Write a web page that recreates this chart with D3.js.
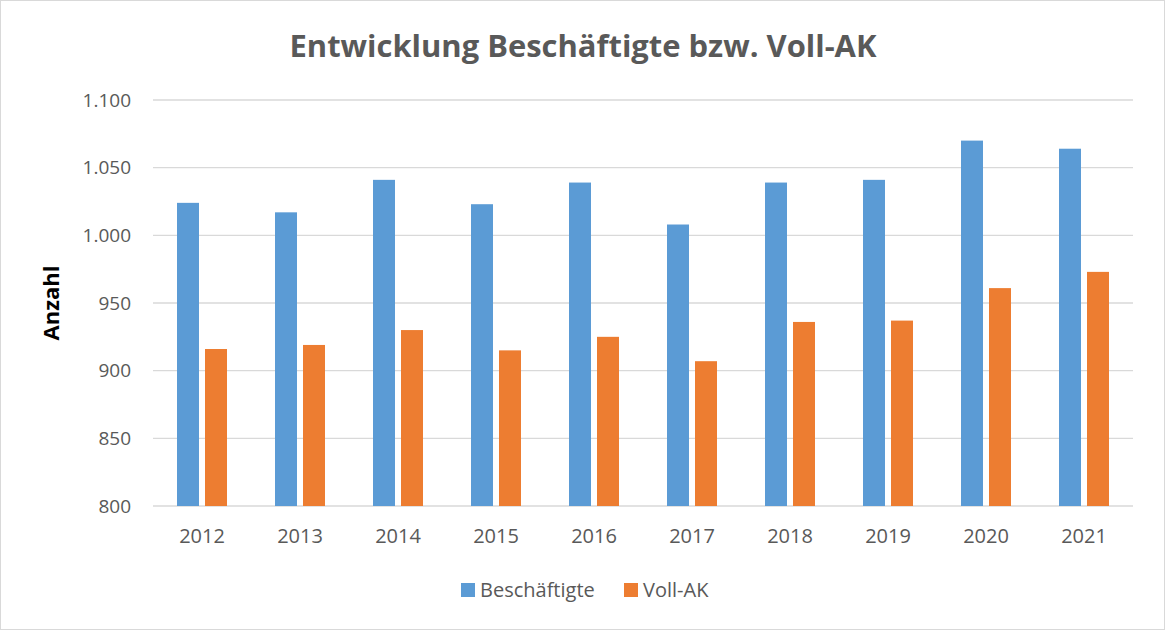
<!DOCTYPE html>
<html>
<head>
<meta charset="utf-8">
<script src="https://cdn.jsdelivr.net/npm/d3@7"></script>
<style>
  body { margin: 0; background: #fff; }
  text { font-family: "Open Sans", "Liberation Sans", sans-serif; }
</style>
</head>
<body>
<div id="chart"></div>
<script>
// data
var years = ["2012","2013","2014","2015","2016","2017","2018","2019","2020","2021"];
var beschaeftigte = [1024, 1017, 1041, 1023, 1039, 1008, 1039, 1041, 1070, 1064];
var vollAK = [916, 919, 930, 915, 925, 907, 936, 937, 961, 973];
var seriesNames = ["Beschäftigte", "Voll-AK"];
var yTicks = [800, 850, 900, 950, 1000, 1050, 1100];

var W = 1165, H = 630;
var margin = {top: 100, right: 32, bottom: 124, left: 153};
var width = W - margin.left - margin.right,
    height = H - margin.top - margin.bottom;
var colors = ["#5B9BD5", "#ED7D31"];

var svg = d3.select("#chart").append("svg")
    .attr("width", W)
    .attr("height", H);

// outer border
svg.append("rect")
  .attr("x", 0.5).attr("y", 0.5)
  .attr("width", W - 1).attr("height", H - 1)
  .attr("fill", "#fff")
  .attr("stroke", "#d9d9d9");

svg.append("text")
  .attr("x", 583).attr("y", 57)
  .attr("text-anchor", "middle")
  .attr("font-size", 30)
  .attr("font-weight", "bold")
  .attr("fill", "#595959")
  .attr("textLength", 587)
  .attr("lengthAdjust", "spacingAndGlyphs")
  .text("Entwicklung Beschäftigte bzw. Voll-AK");

var g = svg.append("g")
  .attr("transform", "translate(" + margin.left + "," + margin.top + ")");

var x = d3.scaleBand().domain(years).range([0, width]);
var y = d3.scaleLinear().domain([800, 1100]).range([height, 0]);

// gridlines
g.append("g")
  .selectAll("line")
  .data(yTicks)
  .enter().append("line")
    .attr("x1", 0).attr("x2", width)
    .attr("y1", function(d) { return y(d); })
    .attr("y2", function(d) { return y(d); })
    .attr("stroke", "#d9d9d9")
    .attr("stroke-width", 1.3);

// y axis labels
var yAxis = g.append("g")
  .call(d3.axisLeft(y).tickValues(yTicks).tickSize(0).tickPadding(22)
    .tickFormat(function(d) { return d3.format(",")(d).replace(/,/g, "."); }));
yAxis.select(".domain").remove();
yAxis.selectAll("text")
  .attr("font-size", 19)
  .attr("fill", "#595959")
  .style("font-family", "'Open Sans', sans-serif");

// x axis labels
var xAxis = g.append("g")
  .attr("transform", "translate(0," + height + ")")
  .call(d3.axisBottom(x).tickSize(0).tickPadding(23));
xAxis.select(".domain").remove();
xAxis.selectAll("text")
  .attr("font-size", 20)
  .attr("fill", "#595959")
  .style("font-family", "'Open Sans', sans-serif");

// bars
var barW = 22, gap = 6;
var series = [beschaeftigte, vollAK];
series.forEach(function(vals, si) {
  g.append("g").selectAll("rect")
    .data(vals)
    .enter().append("rect")
      .attr("x", function(d, i) {
        var c = x(years[i]) + x.bandwidth() / 2;
        return si === 0 ? c - gap / 2 - barW : c + gap / 2;
      })
      .attr("y", function(d) { return y(d); })
      .attr("width", barW)
      .attr("height", function(d) { return height - y(d); })
      .attr("fill", colors[si]);
});

// axis title
svg.append("text")
  .attr("transform", "translate(59,303) rotate(-90)")
  .attr("text-anchor", "middle")
  .attr("font-size", 22)
  .attr("font-weight", "bold")
  .attr("fill", "#000")
  .text("Anzahl");

// legend
var legendX = [461, 624];
seriesNames.forEach(function(name, i) {
  svg.append("rect")
    .attr("x", legendX[i]).attr("y", 583)
    .attr("width", 14).attr("height", 14)
    .attr("fill", colors[i]);
  svg.append("text")
    .attr("x", legendX[i] + 19).attr("y", 597)
    .attr("font-size", 20)
    .attr("fill", "#595959")
    .text(name);
});
</script>
</body>
</html>
